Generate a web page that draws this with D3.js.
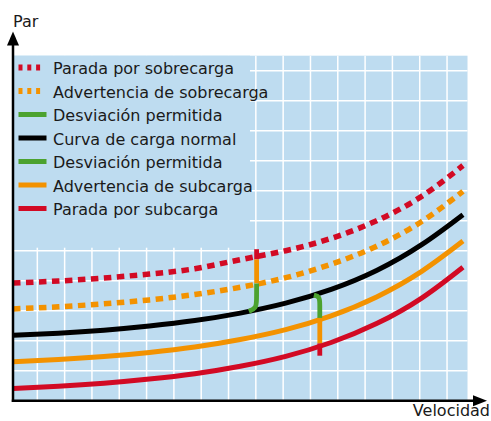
<!DOCTYPE html>
<meta charset="utf-8">
<title>Par / Velocidad</title>
<style>
  body { margin: 0; background: #fff; }
  text { font-family: "DejaVu Sans", sans-serif; font-size: 16px; fill: #1a1a1a; }
</style>
<body>
<svg width="491" height="421"></svg>
<script src="https://d3js.org/d3.v7.min.js"></script>
<script>

// velocidad (% of range) and par values
var velocidad = [0, 10, 20, 30, 40, 50, 60, 70, 80, 90, 99];
var paradaSobrecarga     = [3.92, 3.99, 4.09, 4.22, 4.40, 4.70, 5.00, 5.41, 6.00, 6.82, 7.84];
var advertenciaSobrecarga = [3.06, 3.13, 3.23, 3.36, 3.54, 3.78, 4.10, 4.55, 5.15, 5.98, 6.98];
var curvaNormal          = [2.18, 2.25, 2.35, 2.49, 2.67, 2.92, 3.25, 3.71, 4.34, 5.21, 6.20];
var advertenciaSubcarga  = [1.30, 1.37, 1.47, 1.61, 1.79, 2.04, 2.37, 2.83, 3.46, 4.32, 5.32];
var paradaSubcarga       = [0.41, 0.48, 0.58, 0.72, 0.90, 1.15, 1.48, 1.94, 2.57, 3.43, 4.45];

var legendLabels = [
  "Parada por sobrecarga",
  "Advertencia de sobrecarga",
  "Desviación permitida",
  "Curva de carga normal",
  "Desviación permitida",
  "Advertencia de subcarga",
  "Parada por subcarga"
];

// the two example points: [velocidad, par] pairs for each coloured piece
var marcaAlta = [
  { color: "rojo",    pts: [[53.6, 5.05], [53.6, 4.71]] },
  { color: "naranja", pts: [[53.6, 4.71], [53.6, 3.91]] },
  { color: "verde",   pts: [[53.6, 3.91], [53.6, 3.35], [53.5, 3.08], [51.9, 2.98]] }
];
var marcaBaja = [
  { color: "verde",   pts: [[66.2, 3.52], [67.5, 3.47], [67.5, 3.2], [67.5, 2.76]] },
  { color: "naranja", pts: [[67.5, 2.76], [67.5, 1.91]] },
  { color: "rojo",    pts: [[67.5, 1.91], [67.5, 1.50]] }
];

var colors = {
  rojo: "#d20a24",
  naranja: "#f39200",
  verde: "#4ca22f",
  negro: "#000",
  fondo: "#bedcf0"
};

var svg = d3.select("svg");

var x = d3.scaleLinear().domain([0, 100]).range([13, 467.5]);
var y = d3.scaleLinear().domain([0, 11.5]).range([400.7, 55.7]);

var xGrid = d3.range(5.35, 100, 6.01);
var yGrid = d3.range(1, 12);

// background + grid
svg.append("rect")
  .attr("x", x(0)).attr("y", y(11.5))
  .attr("width", x(100) - x(0)).attr("height", y(0) - y(11.5))
  .attr("fill", colors.fondo);

var grid = svg.append("g").attr("stroke", "#fff").attr("stroke-width", 1.5);
grid.selectAll("line.v").data(xGrid).enter().append("line")
  .attr("class", "v")
  .attr("x1", d => x(d)).attr("x2", d => x(d))
  .attr("y1", y(0)).attr("y2", y(11.5));
grid.selectAll("line.h").data(yGrid).enter().append("line")
  .attr("class", "h")
  .attr("x1", x(0)).attr("x2", x(100))
  .attr("y1", d => y(d)).attr("y2", d => y(d));

// legend panel hides the grid behind it
svg.append("rect")
  .attr("x", x(0)).attr("y", y(11.5))
  .attr("width", 237).attr("height", 192)
  .attr("fill", colors.fondo);

// curves
var series = [
  { values: paradaSobrecarga, color: colors.rojo, dash: true },
  { values: advertenciaSobrecarga, color: colors.naranja, dash: true },
  { values: curvaNormal, color: colors.negro, dash: false },
  { values: advertenciaSubcarga, color: colors.naranja, dash: false },
  { values: paradaSubcarga, color: colors.rojo, dash: false }
];

var line = d3.line()
  .x(d => x(d[0]))
  .y(d => y(d[1]))
  .curve(d3.curveNatural);

svg.append("g").selectAll("path")
  .data(series)
  .enter().append("path")
  .attr("d", s => line(velocidad.map((v, i) => [v, s.values[i]])))
  .attr("fill", "none")
  .attr("stroke", s => s.color)
  .attr("stroke-width", s => s.dash ? 5.5 : 5)
  .attr("stroke-dasharray", s => s.dash ? "7.5,5.5" : null);

// example markers
var markLine = d3.line()
  .x(d => x(d[0]))
  .y(d => y(d[1]))
  .curve(d3.curveBasis);

svg.append("g").selectAll("path")
  .data(marcaAlta.concat(marcaBaja))
  .enter().append("path")
  .attr("d", m => markLine(m.pts))
  .attr("fill", "none")
  .attr("stroke", m => colors[m.color])
  .attr("stroke-width", 4.8);

// legend
var legendStyle = [
  { color: colors.rojo, dash: true },
  { color: colors.naranja, dash: true },
  { color: colors.verde, dash: false },
  { color: colors.negro, dash: false },
  { color: colors.verde, dash: false },
  { color: colors.naranja, dash: false },
  { color: colors.rojo, dash: false }
];

var legend = svg.append("g").selectAll("g")
  .data(legendLabels)
  .enter().append("g")
  .attr("transform", (d, i) => "translate(0," + (74 + i * 23.5) + ")");

legend.append("line")
  .attr("x1", 18.5).attr("x2", (d, i) => legendStyle[i].dash ? 41 : 46.5)
  .attr("y1", -6.5).attr("y2", -6.5)
  .attr("stroke", (d, i) => legendStyle[i].color)
  .attr("stroke-width", (d, i) => legendStyle[i].dash ? 6 : 5)
  .attr("stroke-dasharray", (d, i) => legendStyle[i].dash ? "4,4.8" : null);

legend.append("text")
  .attr("x", 53)
  .text(d => d);

// axes with arrow heads
var axes = svg.append("g");
axes.append("line")
  .attr("x1", x(0)).attr("x2", x(0))
  .attr("y1", y(0) + 1.2).attr("y2", 44)
  .attr("stroke", "#000").attr("stroke-width", 2.5);
axes.append("path")
  .attr("d", "M" + x(0) + ",31.5 L" + (x(0) - 6) + ",45.5 L" + (x(0) + 6) + ",45.5 Z")
  .attr("fill", "#000");
axes.append("line")
  .attr("x1", x(0) - 1.2).attr("x2", 474)
  .attr("y1", y(0)).attr("y2", y(0))
  .attr("stroke", "#000").attr("stroke-width", 2.5);
axes.append("path")
  .attr("d", "M487," + y(0) + " L473," + (y(0) - 5.5) + " L473," + (y(0) + 5.5) + " Z")
  .attr("fill", "#000");

svg.append("text").attr("x", 13).attr("y", 26.7).text("Par");
svg.append("text").attr("x", 490).attr("y", 416).attr("text-anchor", "end").text("Velocidad");

</script>
</body>
